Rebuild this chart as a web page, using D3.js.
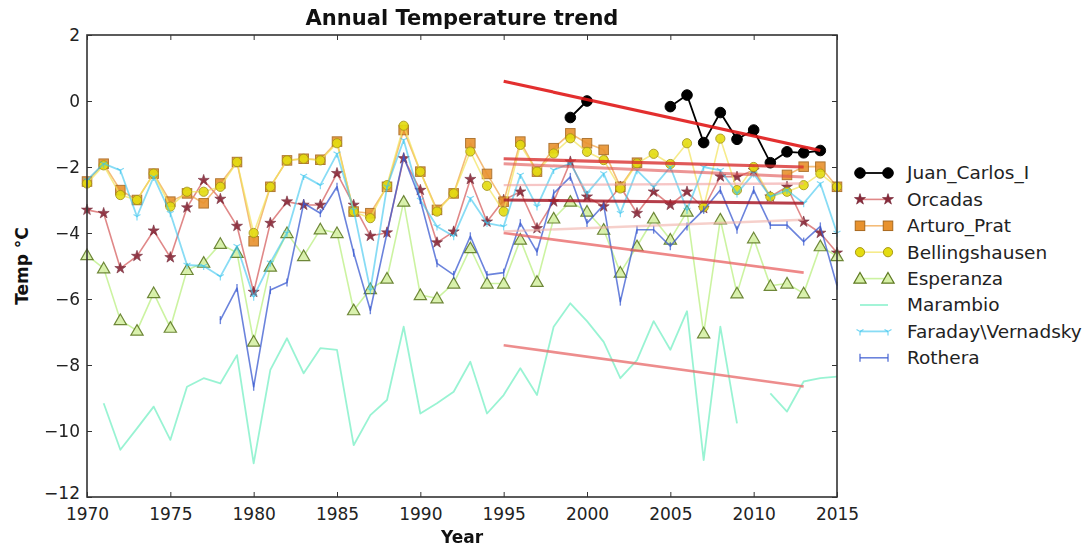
<!DOCTYPE html>
<html>
<head>
<meta charset="utf-8">
<script src="https://cdn.jsdelivr.net/npm/d3@7"></script>
<style>
  html, body { margin: 0; padding: 0; background: #fff; }
  svg { display: block; font-family: "DejaVu Sans", sans-serif; }
</style>
</head>
<body>
<svg id="chart" width="1086" height="547"></svg>
<script>
// ---------------- data ----------------
const years = [1970,1971,1972,1973,1974,1975,1976,1977,1978,1979,
  1980,1981,1982,1983,1984,1985,1986,1987,1988,1989,
  1990,1991,1992,1993,1994,1995,1996,1997,1998,1999,
  2000,2001,2002,2003,2004,2005,2006,2007,2008,2009,
  2010,2011,2012,2013,2014,2015];

const juanCarlos = [null,null,null,null,null,null,null,null,null,null,
  null,null,null,null,null,null,null,null,null,null,
  null,null,null,null,null,null,null,null,null,-0.5,
  0.0,null,null,null,null,-0.17,0.18,-1.26,-0.35,-1.16,
  -0.88,-1.87,-1.54,-1.57,-1.5,null];

const orcadas = [-3.3,-3.4,-5.07,-4.7,-3.93,-4.74,-3.23,-2.4,-2.97,-3.79,
  -5.79,-3.7,-3.05,-3.15,-3.15,-2.19,-3.15,-4.09,-3.99,-1.74,
  -2.7,-4.29,-3.96,-2.37,-3.66,-3.0,-2.75,-3.86,-3.05,-1.84,
  -2.9,-3.2,-2.6,-3.4,-2.75,-3.15,-2.75,-3.25,-2.29,-2.3,
  -2.1,-2.9,-2.6,-3.66,-4.0,-4.6];

const arturoPrat = [-2.44,-1.9,-2.7,-3.0,-2.2,-3.05,-2.8,-3.1,-2.5,-1.85,
  -4.25,-2.6,-1.8,-1.75,-1.78,-1.23,-3.35,-3.4,-2.6,-0.88,
  -2.14,-3.3,-2.8,-1.28,-2.21,-3.05,-1.23,-2.14,-1.43,-0.98,
  -1.28,-1.48,-2.6,-1.87,null,null,null,null,null,null,
  null,null,-2.24,-1.99,-1.99,-2.6];

const bellingshausen = [-2.5,-1.95,-2.85,-3.0,-2.2,-3.2,-2.75,-2.75,-2.6,-1.85,
  -4.0,-2.6,-1.8,-1.75,-1.8,-1.28,-3.35,-3.55,-2.55,-0.75,
  -2.14,-3.35,-2.8,-1.53,-2.57,-3.35,-1.33,-2.14,-1.59,-1.13,
  -1.54,-1.79,-2.65,-1.89,-1.6,-1.91,-1.28,-3.22,-1.14,-2.7,
  -2.0,-2.9,-2.75,-2.55,-2.2,-2.6];

const esperanza = [-4.67,-5.07,-6.64,-6.96,-5.82,-6.87,-5.12,-4.9,-4.33,-4.6,
  -7.29,-5.02,-4.0,-4.7,-3.89,-4.0,-6.34,-5.7,-5.38,-3.05,
  -5.88,-5.98,-5.53,-4.46,-5.53,-5.53,-4.2,-5.48,-3.56,-3.05,
  -3.35,-3.9,-5.2,-4.4,-3.56,-4.2,-3.35,-7.04,-3.59,-5.83,
  -4.16,-5.6,-5.53,-5.83,-4.4,-4.7];

const marambio = [null,-9.16,-10.57,-9.92,-9.26,-10.27,-8.66,-8.4,-8.56,-7.7,
  -10.98,-8.15,-7.19,-8.25,-7.49,-7.54,-10.43,-9.52,-9.06,-6.84,
  -9.47,-9.16,-8.81,-7.9,-9.47,-8.91,-8.1,-8.91,-6.84,-6.13,
  -6.67,-7.3,-8.4,-7.85,-6.67,-7.54,-6.37,-10.88,-6.84,-9.77,
  null,-8.86,-9.41,-8.5,-8.4,-8.35];

const faraday = [-2.4,-1.9,-2.1,-3.5,-2.3,-3.4,-4.97,-5.0,-5.32,-4.4,
  -5.93,-4.9,-4.0,-2.27,-2.55,-1.6,-3.3,-5.73,-2.6,-1.18,
  -3.0,-3.8,-4.1,-2.95,-3.7,-3.8,-2.24,-3.2,-2.09,-1.89,
  -2.8,-2.2,-3.4,-2.1,-2.6,-2.0,-3.3,-2.0,-2.1,-2.8,
  -2.2,-2.9,-2.7,-3.1,-2.5,-4.0];

const rothera = [null,null,null,null,null,null,null,null,-6.64,-5.67,
  -8.66,-5.73,-5.5,-3.1,-3.4,-2.6,-4.6,-6.34,-4.0,-1.69,
  -3.0,-4.92,-5.27,-4.1,-5.27,-5.2,-3.7,-4.57,-2.8,-2.3,
  -3.7,-3.15,-6.08,-3.9,-3.9,-4.4,-3.8,-3.3,-2.7,-3.9,
  -2.7,-3.76,-3.76,-4.26,-3.8,-5.6];

const stationNames = ["Juan_Carlos_I","Orcadas","Arturo_Prat","Bellingshausen",
  "Esperanza","Marambio","Faraday\\Vernadsky","Rothera"];

// trend lines (start / end year and value)
const trendStartYear = [1995,1995,1995,1995,1995,1995,1995,1995];
const trendEndYear   = [2014,2013,2013,2013,2013,2013,2013,2013];
const trendStartVal  = [0.6,-3.0,-1.75,-1.9,-4.0,-7.4,-2.55,-3.95];
const trendEndVal    = [-1.5,-3.1,-2.0,-2.3,-5.2,-8.65,-2.5,-3.6];

const xTicks = [1970,1975,1980,1985,1990,1995,2000,2005,2010,2015];
const yTicks = [2,0,-2,-4,-6,-8,-10,-12];

// ---------------- styles ----------------
const seriesValues = [juanCarlos, orcadas, arturoPrat, bellingshausen, esperanza, marambio, faraday, rothera];
const styles = [
  {line:"#000000", op:1.0,  w:1.8, marker:"circle",   fill:"#000000", stroke:"#000000", size:5.3},
  {line:"#d04848", op:0.65, w:1.6, marker:"star",     fill:"#8a2a3a", stroke:"#6a1a2a", size:38},
  {line:"#f0a040", op:0.7,  w:1.6, marker:"square",   fill:"#e8922e", stroke:"#a8681e", size:9.5},
  {line:"#f2e25a", op:0.7,  w:1.6, marker:"circle",   fill:"#e4dc10", stroke:"#a89818", size:4.6},
  {line:"#bff08a", op:0.8,  w:1.6, marker:"triangle", fill:"#d6f0a6", stroke:"#5e7a22", size:65},
  {line:"#7ff0c8", op:0.8,  w:1.8, marker:"none"},
  {line:"#38c4ee", op:0.6,  w:1.8, marker:"tri",      fill:"none",    stroke:"#38c4ee", size:4},
  {line:"#3a5ad0", op:0.75, w:1.6, marker:"vbar",     fill:"none",    stroke:"#3a5ad0", size:4}
];
const trendStyles = [
  {c:"#e01818", op:0.9, w:3.2},
  {c:"#a81c2a", op:0.85, w:3.0},
  {c:"#d83030", op:0.8, w:3.2},
  {c:"#e05050", op:0.6, w:3.0},
  {c:"#e86060", op:0.75, w:2.6},
  {c:"#e87070", op:0.8, w:2.6},
  {c:"#f0a0a0", op:0.6, w:2.4},
  {c:"#f0b0a8", op:0.6, w:2.4}
];

// ---------------- layout ----------------
const svg = d3.select("#chart");
const L = 87, R = 837, T = 35, B = 497;
const x = d3.scaleLinear().domain([1970, 2015]).range([L, R]);
const y = d3.scaleLinear().domain([-12, 2]).range([B, T]);

const plot = svg.append("g");

const lineGen = d3.line()
  .defined(d => d.v !== null)
  .x(d => x(d.yr))
  .y(d => y(d.v));

function drawMarker(g, st, cx, cy) {
  if (st.marker === "circle") {
    g.append("circle").attr("cx", cx).attr("cy", cy).attr("r", st.size)
      .attr("fill", st.fill).attr("stroke", st.stroke).attr("stroke-width", 1);
  } else if (st.marker === "square") {
    g.append("rect").attr("x", cx - st.size/2).attr("y", cy - st.size/2)
      .attr("width", st.size).attr("height", st.size)
      .attr("fill", st.fill).attr("stroke", st.stroke).attr("stroke-width", 1);
  } else if (st.marker === "star") {
    g.append("path").attr("d", d3.symbol(d3.symbolStar, st.size)())
      .attr("transform", `translate(${cx},${cy})`)
      .attr("fill", st.fill).attr("stroke", st.stroke).attr("stroke-width", 0.6);
  } else if (st.marker === "triangle") {
    g.append("path").attr("d", d3.symbol(d3.symbolTriangle, st.size)())
      .attr("transform", `translate(${cx},${cy + 1})`)
      .attr("fill", st.fill).attr("stroke", st.stroke).attr("stroke-width", 1.2);
  } else if (st.marker === "tri") {
    const s = st.size;
    g.append("path").attr("d", `M${cx},${cy}L${cx},${cy + s}M${cx},${cy}L${cx - s*0.87},${cy - s*0.5}M${cx},${cy}L${cx + s*0.87},${cy - s*0.5}`)
      .attr("stroke", st.stroke).attr("stroke-width", 1.2).attr("fill", "none").attr("opacity", 0.7);
  } else if (st.marker === "vbar") {
    g.append("path").attr("d", `M${cx},${cy - st.size}L${cx},${cy + st.size}`)
      .attr("stroke", st.stroke).attr("stroke-width", 1.4).attr("opacity", 0.8);
  }
}

seriesValues.forEach((vals, i) => {
  const st = styles[i];
  const pts = years.map((yr, k) => ({yr, v: vals[k]}));
  const g = plot.append("g");
  g.append("path").attr("d", lineGen(pts))
    .attr("fill", "none").attr("stroke", st.line)
    .attr("stroke-width", st.w).attr("stroke-opacity", st.op)
    .attr("stroke-linejoin", "round");
  if (st.marker !== "none") {
    const mg = g.append("g").attr("opacity", i === 0 ? 1 : 0.9);
    pts.filter(p => p.v !== null).forEach(p => drawMarker(mg, st, x(p.yr), y(p.v)));
  }
});

// trend lines
trendStartYear.forEach((sy, i) => {
  const ts = trendStyles[i];
  plot.append("line")
    .attr("x1", x(sy)).attr("y1", y(trendStartVal[i]))
    .attr("x2", x(trendEndYear[i])).attr("y2", y(trendEndVal[i]))
    .attr("stroke", ts.c).attr("stroke-opacity", ts.op).attr("stroke-width", ts.w);
});

// ---------------- axes ----------------
const tickFont = 17;
const xAxis = d3.axisBottom(x).tickValues(xTicks).tickFormat(d3.format("d")).tickSizeInner(-5).tickSizeOuter(0).tickPadding(11);
const xAxisTop = d3.axisTop(x).tickValues(xTicks).tickFormat("").tickSizeInner(-5).tickSizeOuter(0);
const yAxis = d3.axisLeft(y).tickValues(yTicks).tickFormat(d3.format("d")).tickSizeInner(-5).tickSizeOuter(0).tickPadding(7);
const yAxisRight = d3.axisRight(y).tickValues(yTicks).tickFormat("").tickSizeInner(-5).tickSizeOuter(0);

function styleAxis(g) {
  g.select(".domain").remove();
  g.selectAll(".tick line").attr("stroke", "#333").attr("stroke-width", 1);
  g.selectAll(".tick text").attr("fill", "#222").style("font-size", tickFont + "px")
    .style("font-family", "DejaVu Sans, sans-serif");
}
svg.append("g").attr("transform", `translate(0,${B})`).call(xAxis).call(styleAxis);
svg.append("g").attr("transform", `translate(0,${T})`).call(xAxisTop).call(styleAxis);
const yAxisG = svg.append("g").attr("transform", `translate(${L},0)`).call(yAxis).call(styleAxis);
// lift the bottom-most label slightly so it does not collide with "1970"
yAxisG.selectAll(".tick text").filter(d => d === -12).attr("dy", "0.1em");
svg.append("g").attr("transform", `translate(${R},0)`).call(yAxisRight).call(styleAxis);

// frame
svg.append("rect").attr("x", L).attr("y", T).attr("width", R - L).attr("height", B - T)
  .attr("fill", "none").attr("stroke", "#333").attr("stroke-width", 1.6);

// title and labels
svg.append("text").attr("x", (L + R) / 2).attr("y", 25).attr("text-anchor", "middle")
  .style("font-size", "21px").style("font-weight", "bold").attr("fill", "#111")
  .text("Annual Temperature trend");
svg.append("text").attr("x", (L + R) / 2).attr("y", 543).attr("text-anchor", "middle")
  .style("font-size", "17px").style("font-weight", "bold").attr("fill", "#111")
  .text("Year");
svg.append("text").attr("transform", `translate(28,${(T + B) / 2}) rotate(-90)`)
  .attr("text-anchor", "middle")
  .style("font-size", "17px").style("font-weight", "bold").attr("fill", "#111")
  .text("Temp °C");

// ---------------- legend ----------------
const legend = svg.append("g");
stationNames.forEach((name, i) => {
  const st = styles[i];
  const cy = 173 + i * 26.4;
  const g = legend.append("g");
  g.append("line").attr("x1", 860).attr("x2", 888).attr("y1", cy).attr("y2", cy)
    .attr("stroke", st.line).attr("stroke-opacity", st.op).attr("stroke-width", st.w);
  if (st.marker !== "none") {
    drawMarker(g, st, 860, cy);
    drawMarker(g, st, 888, cy);
  }
  g.append("text").attr("x", 907).attr("y", cy).attr("dy", "0.35em")
    .style("font-size", "18.5px").attr("fill", "#222").text(name);
});
</script>
</body>
</html>
